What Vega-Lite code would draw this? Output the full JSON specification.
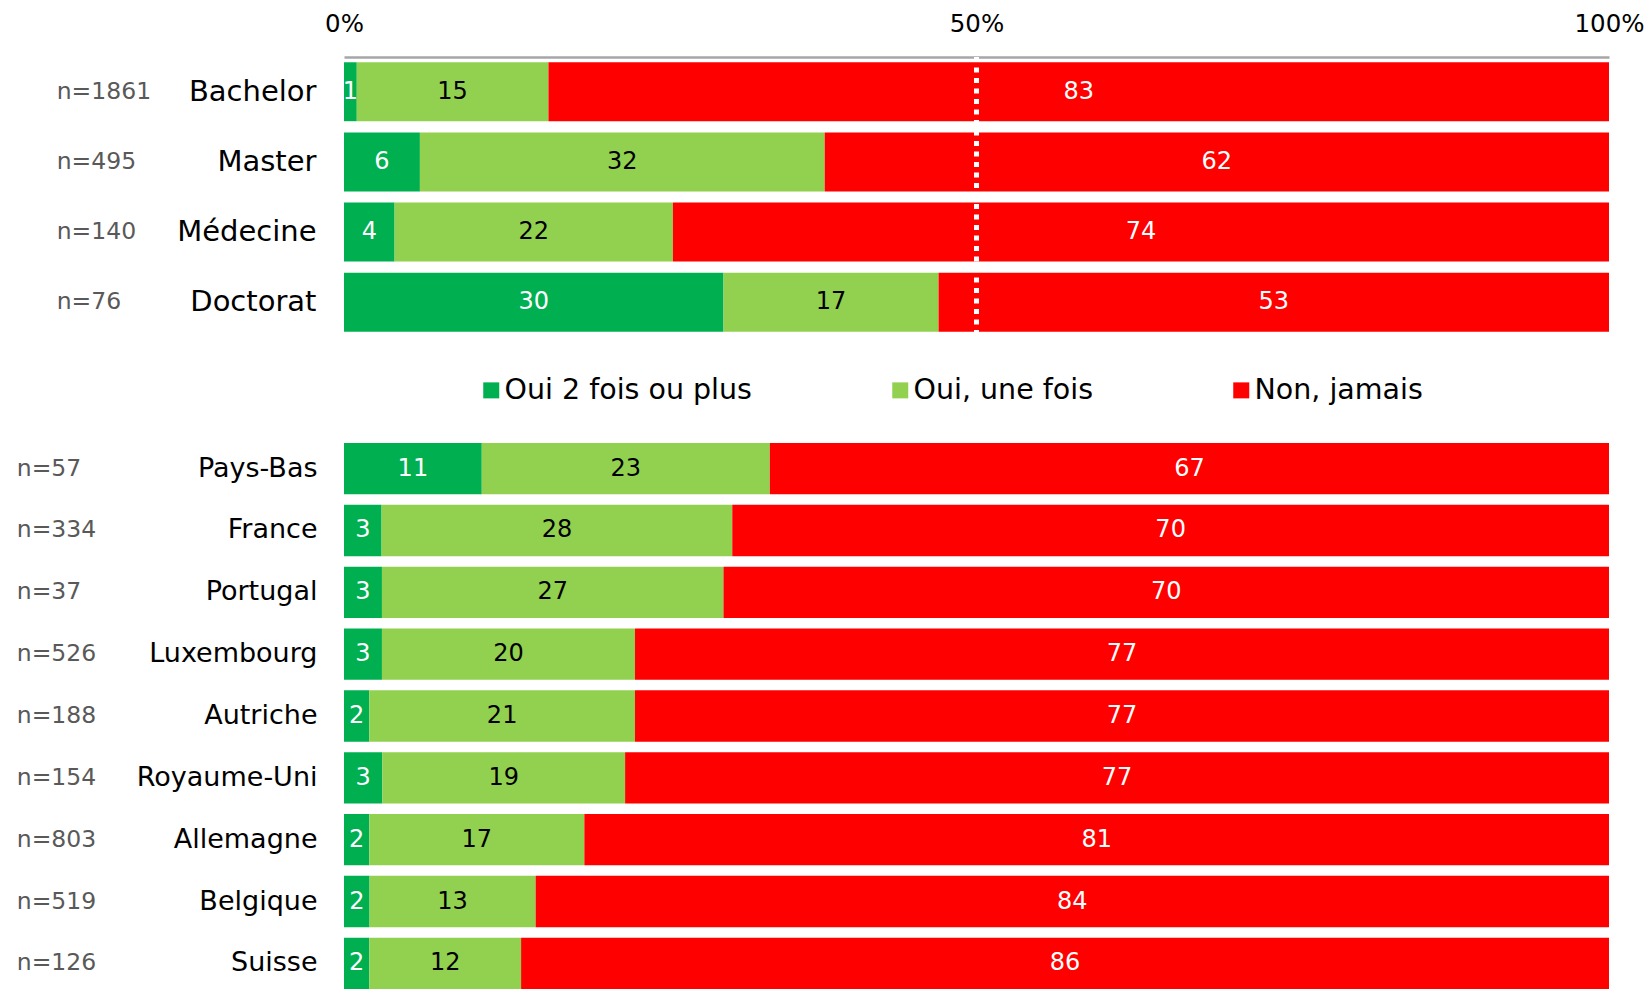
{
  "$schema": "https://vega.github.io/schema/vega-lite/v6.json",
  "background": "white",
  "padding": {"left": 16, "top": 11, "right": 5, "bottom": 0},
  "bounds": "flush",
  "spacing": 106,
  "config": {
    "view": {"stroke": null},
    "font": "DejaVu Sans"
  },
  "datasets": {
    "diplome": [
      {"cat": "Bachelor", "n": "n=1861", "reponse": "Oui 2 fois ou plus", "order": 1, "value": 1},
      {"cat": "Bachelor", "n": "n=1861", "reponse": "Oui, une fois", "order": 2, "value": 15},
      {"cat": "Bachelor", "n": "n=1861", "reponse": "Non, jamais", "order": 3, "value": 83},
      {"cat": "Master", "n": "n=495", "reponse": "Oui 2 fois ou plus", "order": 1, "value": 6},
      {"cat": "Master", "n": "n=495", "reponse": "Oui, une fois", "order": 2, "value": 32},
      {"cat": "Master", "n": "n=495", "reponse": "Non, jamais", "order": 3, "value": 62},
      {"cat": "Médecine", "n": "n=140", "reponse": "Oui 2 fois ou plus", "order": 1, "value": 4},
      {"cat": "Médecine", "n": "n=140", "reponse": "Oui, une fois", "order": 2, "value": 22},
      {"cat": "Médecine", "n": "n=140", "reponse": "Non, jamais", "order": 3, "value": 74},
      {"cat": "Doctorat", "n": "n=76", "reponse": "Oui 2 fois ou plus", "order": 1, "value": 30},
      {"cat": "Doctorat", "n": "n=76", "reponse": "Oui, une fois", "order": 2, "value": 17},
      {"cat": "Doctorat", "n": "n=76", "reponse": "Non, jamais", "order": 3, "value": 53}
    ],
    "pays": [
      {"cat": "Pays-Bas", "n": "n=57", "reponse": "Oui 2 fois ou plus", "order": 1, "value": 11},
      {"cat": "Pays-Bas", "n": "n=57", "reponse": "Oui, une fois", "order": 2, "value": 23},
      {"cat": "Pays-Bas", "n": "n=57", "reponse": "Non, jamais", "order": 3, "value": 67},
      {"cat": "France", "n": "n=334", "reponse": "Oui 2 fois ou plus", "order": 1, "value": 3},
      {"cat": "France", "n": "n=334", "reponse": "Oui, une fois", "order": 2, "value": 28},
      {"cat": "France", "n": "n=334", "reponse": "Non, jamais", "order": 3, "value": 70},
      {"cat": "Portugal", "n": "n=37", "reponse": "Oui 2 fois ou plus", "order": 1, "value": 3},
      {"cat": "Portugal", "n": "n=37", "reponse": "Oui, une fois", "order": 2, "value": 27},
      {"cat": "Portugal", "n": "n=37", "reponse": "Non, jamais", "order": 3, "value": 70},
      {"cat": "Luxembourg", "n": "n=526", "reponse": "Oui 2 fois ou plus", "order": 1, "value": 3},
      {"cat": "Luxembourg", "n": "n=526", "reponse": "Oui, une fois", "order": 2, "value": 20},
      {"cat": "Luxembourg", "n": "n=526", "reponse": "Non, jamais", "order": 3, "value": 77},
      {"cat": "Autriche", "n": "n=188", "reponse": "Oui 2 fois ou plus", "order": 1, "value": 2},
      {"cat": "Autriche", "n": "n=188", "reponse": "Oui, une fois", "order": 2, "value": 21},
      {"cat": "Autriche", "n": "n=188", "reponse": "Non, jamais", "order": 3, "value": 77},
      {"cat": "Royaume-Uni", "n": "n=154", "reponse": "Oui 2 fois ou plus", "order": 1, "value": 3},
      {"cat": "Royaume-Uni", "n": "n=154", "reponse": "Oui, une fois", "order": 2, "value": 19},
      {"cat": "Royaume-Uni", "n": "n=154", "reponse": "Non, jamais", "order": 3, "value": 77},
      {"cat": "Allemagne", "n": "n=803", "reponse": "Oui 2 fois ou plus", "order": 1, "value": 2},
      {"cat": "Allemagne", "n": "n=803", "reponse": "Oui, une fois", "order": 2, "value": 17},
      {"cat": "Allemagne", "n": "n=803", "reponse": "Non, jamais", "order": 3, "value": 81},
      {"cat": "Belgique", "n": "n=519", "reponse": "Oui 2 fois ou plus", "order": 1, "value": 2},
      {"cat": "Belgique", "n": "n=519", "reponse": "Oui, une fois", "order": 2, "value": 13},
      {"cat": "Belgique", "n": "n=519", "reponse": "Non, jamais", "order": 3, "value": 84},
      {"cat": "Suisse", "n": "n=126", "reponse": "Oui 2 fois ou plus", "order": 1, "value": 2},
      {"cat": "Suisse", "n": "n=126", "reponse": "Oui, une fois", "order": 2, "value": 12},
      {"cat": "Suisse", "n": "n=126", "reponse": "Non, jamais", "order": 3, "value": 86}
    ]
  },
  "resolve": {"legend": {"color": "independent"}},
  "vconcat": [
    {
      "width": 1265,
      "height": 280,
      "data": {"name": "diplome"},
      "transform": [
        {"stack": "value", "groupby": ["cat"], "sort": [{"field": "order", "order": "ascending"}], "offset": "normalize", "as": ["x0", "x1"]},
        {"calculate": "(datum.x0 + datum.x1) / 2", "as": "xm"}
      ],
      "layer": [
        {
          "mark": {"type": "bar"},
          "encoding": {
            "y": {
              "field": "cat", "type": "nominal", "sort": null, "title": null,
              "scale": {"paddingInner": 0.16, "paddingOuter": 0.075},
              "axis": {"labelFontSize": 29, "labelColor": "#000000", "labelPadding": 28, "labelLimit": 400, "ticks": false, "domain": false}
            },
            "x": {
              "field": "x0", "type": "quantitative", "title": null,
              "scale": {"domain": [0, 1]},
              "axis": {"orient": "top", "values": [0, 0.5, 1], "format": ".0%", "labelFlush": false, "labelFontSize": 24.5, "labelColor": "#000000", "labelPadding": 21, "ticks": false, "grid": false, "domainColor": "#a6a6a6", "domainWidth": 2.5}
            },
            "x2": {"field": "x1"},
            "color": {
              "field": "reponse", "type": "nominal",
              "scale": {"domain": ["Oui 2 fois ou plus", "Oui, une fois", "Non, jamais"], "range": ["#00B050", "#92D050", "#FF0000"]},
              "legend": {"title": null, "orient": "none", "legendX": 133, "legendY": 319, "direction": "horizontal", "symbolType": "square", "symbolSize": 256, "symbolStrokeWidth": 0, "labelFontSize": 28.5, "labelColor": "#000000", "labelOffset": -1, "labelLimit": 500, "columnPadding": 134, "padding": 0}
            }
          }
        },
        {
          "mark": {"type": "text", "fontSize": 24},
          "encoding": {
            "y": {"field": "cat", "type": "nominal", "sort": null, "title": null},
            "x": {"field": "xm", "type": "quantitative", "title": null},
            "text": {"field": "value", "type": "quantitative"},
            "color": {"condition": {"test": "datum.reponse === 'Oui, une fois'", "value": "#000000"}, "value": "#ffffff"}
          }
        },
        {
          "transform": [{"filter": "datum.order === 1"}],
          "mark": {"type": "text", "align": "left", "fontSize": 23.5, "color": "#595959"},
          "encoding": {
            "y": {"field": "cat", "type": "nominal", "sort": null, "title": null},
            "x": {"datum": -0.2271, "type": "quantitative"},
            "text": {"field": "n"}
          }
        },
        {
          "data": {"values": [{"ref": 0.5}]},
          "mark": {"type": "rule", "color": "#ffffff", "strokeWidth": 5, "strokeDash": [5, 5.5]},
          "encoding": {"x": {"field": "ref", "type": "quantitative", "title": null}}
        }
      ]
    },
    {
      "width": 1265,
      "height": 546,
      "data": {"name": "pays"},
      "transform": [
        {"stack": "value", "groupby": ["cat"], "sort": [{"field": "order", "order": "ascending"}], "offset": "normalize", "as": ["x0", "x1"]},
        {"calculate": "(datum.x0 + datum.x1) / 2", "as": "xm"}
      ],
      "layer": [
        {
          "mark": {"type": "bar"},
          "encoding": {
            "y": {
              "field": "cat", "type": "nominal", "sort": null, "title": null,
              "scale": {"paddingInner": 0.17, "paddingOuter": 0},
              "axis": {"labelFontSize": 27, "labelColor": "#000000", "labelPadding": 27, "labelLimit": 400, "ticks": false, "domain": false}
            },
            "x": {"field": "x0", "type": "quantitative", "title": null, "scale": {"domain": [0, 1]}, "axis": null},
            "x2": {"field": "x1"},
            "color": {
              "field": "reponse", "type": "nominal",
              "scale": {"domain": ["Oui 2 fois ou plus", "Oui, une fois", "Non, jamais"], "range": ["#00B050", "#92D050", "#FF0000"]},
              "legend": null
            }
          }
        },
        {
          "mark": {"type": "text", "fontSize": 24},
          "encoding": {
            "y": {"field": "cat", "type": "nominal", "sort": null, "title": null},
            "x": {"field": "xm", "type": "quantitative", "title": null},
            "text": {"field": "value", "type": "quantitative"},
            "color": {"condition": {"test": "datum.reponse === 'Oui, une fois'", "value": "#000000"}, "value": "#ffffff"}
          }
        },
        {
          "transform": [{"filter": "datum.order === 1"}],
          "mark": {"type": "text", "align": "left", "fontSize": 23.5, "color": "#595959"},
          "encoding": {
            "y": {"field": "cat", "type": "nominal", "sort": null, "title": null},
            "x": {"datum": -0.2587, "type": "quantitative"},
            "text": {"field": "n"}
          }
        }
      ]
    }
  ]
}
